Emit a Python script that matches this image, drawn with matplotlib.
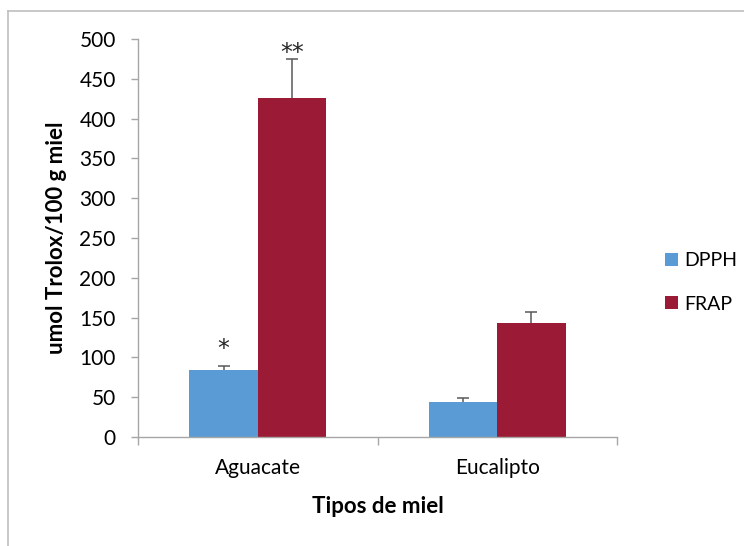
import matplotlib.pyplot as plt
from matplotlib.lines import Line2D
import numpy as np

# Honey antioxidant capacity
categories = ["Aguacate", "Eucalipto"]
dpph = [84, 44]
dpph_err = [5, 5]
frap = [426, 143]
frap_err = [49, 14]
dpph_marks = ["*", ""]
frap_marks = ["**", ""]

plt.rcParams['font.family'] = ['Lato', 'DejaVu Sans']

fig = plt.figure(figsize=(7.44, 5.46), dpi=100)
ax = fig.add_axes([138 / 744, 1 - 437 / 546, 479 / 744, 398 / 546])

# chart area border (left and top edges)
frame_col = "#BFBFBF"
fig.lines.append(Line2D([7.5 / 744, 7.5 / 744], [0, 1 - 10.5 / 546],
                        transform=fig.transFigure, color=frame_col, linewidth=1.2))
fig.lines.append(Line2D([7.5 / 744, 1], [1 - 10.5 / 546, 1 - 10.5 / 546],
                        transform=fig.transFigure, color=frame_col, linewidth=1.2))

x = np.arange(len(categories)) + 0.5
w = 0.285
blue = "#5B9BD5"
red = "#9B1B36"
ecol = "#595959"

ax.bar(x - w / 2, dpph, w, color=blue, label="DPPH", zorder=2)
ax.bar(x + w / 2, frap, w, color=red, label="FRAP", zorder=2)


def up_errors(xs, vals, errs):
    tops = np.array(vals) + np.array(errs)
    ax.vlines(xs, vals, tops, color=ecol, linewidth=1.1, zorder=3)
    ax.plot(xs, tops, linestyle="none", marker="_", markersize=9,
            markeredgewidth=1.1, color=ecol, zorder=3)
    return tops


dpph_tops = up_errors(x - w / 2, dpph, dpph_err)
frap_tops = up_errors(x + w / 2, frap, frap_err)

# significance marks
for xi, top, m, off in zip(x - w / 2, dpph_tops, dpph_marks, [22, 0]):
    if m:
        ax.text(xi, top + off, m, ha="center", va="center", fontsize=17,
                family="DejaVu Sans", color="#262626")
for xi, top, m, off in zip(x + w / 2, frap_tops, frap_marks, [8, 0]):
    if m:
        ax.text(xi, top + off, m, ha="center", va="center", fontsize=17,
                family="DejaVu Sans", color="#262626")

ax.set_xlim(0, 2)
ax.set_ylim(0, 500)
ax.set_yticks(np.arange(0, 501, 50))
ax.set_xticks(x)
ax.set_xticklabels(categories)
ax.set_xticks([0, 1, 2], minor=True)
ax.tick_params(axis="x", which="major", length=0, pad=15, labelsize=15)
ax.tick_params(axis="x", which="minor", length=5.5, width=1, color="#A6A6A6", direction="out")
ax.tick_params(axis="y", length=5, width=1, color="#A6A6A6", direction="out", pad=11, labelsize=15)

for s in ["top", "right"]:
    ax.spines[s].set_visible(False)
for s in ["left", "bottom"]:
    ax.spines[s].set_color("#A6A6A6")
    ax.spines[s].set_linewidth(1)

ax.set_xlabel("Tipos de miel", fontsize=16, fontweight="bold", va="top")
ax.xaxis.set_label_coords(0.5, -0.148)
ax.set_ylabel("umol Trolox/100 g miel", fontsize=16, fontweight="bold")
ax.yaxis.set_label_coords(-0.148, 0.5)

leg = fig.legend(loc="center left", bbox_to_anchor=((655 - 7.8) / 744, 1 - 282.5 / 546),
                 frameon=False, fontsize=14, handlelength=0.67, handleheight=0.67,
                 labelspacing=1.35, handletextpad=0.35)

fig.savefig("out.png", dpi=100)
